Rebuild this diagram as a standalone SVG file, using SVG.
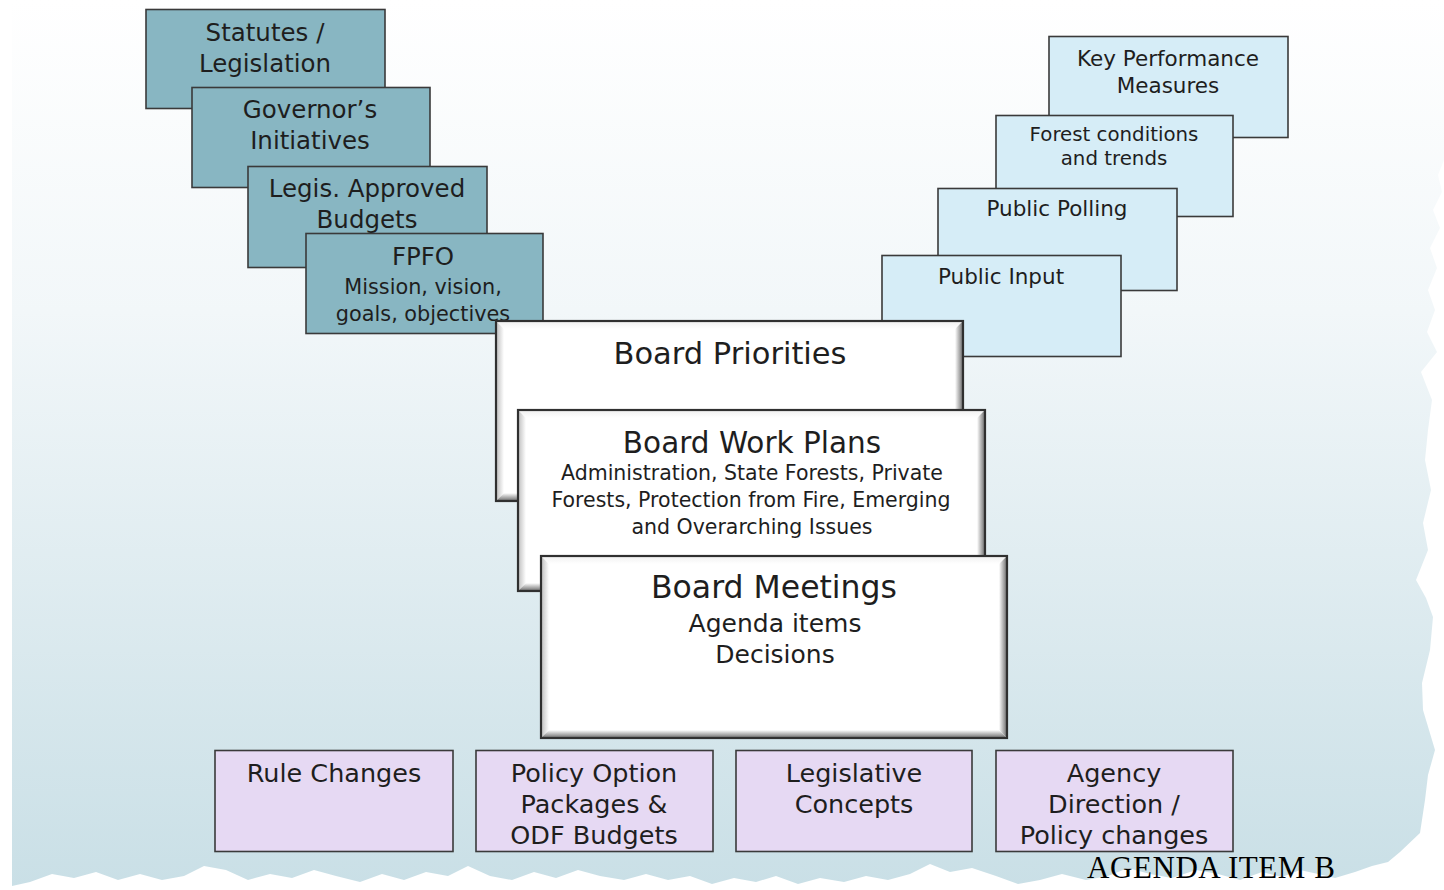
<svg xmlns="http://www.w3.org/2000/svg" width="1444" height="890" viewBox="0 0 1444 890">
<defs>
<linearGradient id="bg" gradientUnits="userSpaceOnUse" x1="0" y1="0" x2="0" y2="890">
<stop offset="0" stop-color="#ffffff"/>
<stop offset="0.35" stop-color="#f2f7f9"/>
<stop offset="1" stop-color="#c9dfe6"/>
</linearGradient>
<linearGradient id="bvR" x1="0" y1="0" x2="1" y2="0">
<stop offset="0" stop-color="#ffffff"/>
<stop offset="1" stop-color="#6a6a6a"/>
</linearGradient>
<linearGradient id="bvB" x1="0" y1="0" x2="0" y2="1">
<stop offset="0" stop-color="#ffffff"/>
<stop offset="1" stop-color="#6a6a6a"/>
</linearGradient>
<linearGradient id="bvL" x1="0" y1="0" x2="1" y2="0">
<stop offset="0" stop-color="#bdbdbd"/>
<stop offset="1" stop-color="#ffffff"/>
</linearGradient>
<linearGradient id="bvT" x1="0" y1="0" x2="0" y2="1">
<stop offset="0" stop-color="#f0f0f0"/>
<stop offset="1" stop-color="#ffffff"/>
</linearGradient>
</defs>
<style>
text{font-family:"DejaVu Sans","Liberation Sans",sans-serif;fill:#1e1e1e;text-anchor:middle}
.teal{fill:#88b6c2;stroke:#3a3a3a;stroke-width:1.6}
.sky{fill:#d6edf7;stroke:#3a3a3a;stroke-width:1.6}
.lav{fill:#e6d9f3;stroke:#3a3a3a;stroke-width:1.6}
.wht{fill:#ffffff}
.edge{fill:none;stroke:#303030;stroke-width:2.2}
.t24{font-size:24.5px}
.t21{font-size:20.8px}
.r21{font-size:21.5px}
.r20{font-size:19.8px}
.b25{font-size:25.5px}
.agenda{font-family:"Liberation Serif","Times New Roman",serif;font-size:31px;fill:#000;text-anchor:start}
</style>

<path id="background" fill="url(#bg)" d="M12,0 L1444,0 L1444,160 L1438,175 L1442,192 L1433,210 L1440,228 L1430,248 L1437,268 L1428,290 L1435,310 L1427,332 L1437,352 L1421,372 L1432,400 L1428,430 L1425,460 L1431,490 L1423,523 L1428,550 L1416,580 L1426,598 L1433,617 L1430,650 L1422,683 L1423,710 L1435,750 L1428,775 L1425,800 L1420,833 L1400,852 L1388,862 L1372,866 L1355,872 L1335,878 L1318,874 L1300,870 L1282,877 L1262,872 L1240,880 L1218,874 L1196,870 L1172,878 L1150,874 L1128,868 L1108,876 L1086,880 L1062,874 L1040,880 L1018,884 L996,876 L972,868 L950,872 L930,864 L910,874 L888,880 L866,876 L844,882 L820,878 L798,884 L776,876 L756,882 L734,878 L712,884 L690,876 L668,880 L646,874 L624,880 L600,876 L578,870 L556,878 L534,872 L512,880 L490,876 L468,866 L448,876 L426,872 L404,880 L382,874 L360,882 L336,876 L314,870 L292,878 L270,874 L248,880 L226,870 L204,866 L184,876 L162,880 L140,874 L118,880 L96,872 L74,878 L52,874 L30,882 L12,886 Z"/>

<g id="connectors"/>

<g id="statutes">
<rect class="teal" x="146" y="9.5" width="239" height="99"/>
<text class="t24" x="265" y="41">Statutes /</text>
<text class="t24" x="265" y="72">Legislation</text>
</g>
<g id="governor">
<rect class="teal" x="192" y="87.5" width="238" height="100"/>
<text class="t24" x="310" y="118">Governor’s</text>
<text class="t24" x="310" y="149">Initiatives</text>
</g>
<g id="legis-budgets">
<rect class="teal" x="248" y="166.5" width="239" height="101"/>
<text class="t24" x="367" y="197">Legis. Approved</text>
<text class="t24" x="367" y="228">Budgets</text>
</g>
<g id="fpfo">
<rect class="teal" x="306" y="233.5" width="237" height="100"/>
<text class="t24" x="423" y="265">FPFO</text>
<text class="t21" x="423" y="294">Mission, vision,</text>
<text class="t21" x="423" y="321">goals, objectives</text>
</g>

<g id="kpm">
<rect class="sky" x="1049" y="36.5" width="239" height="101"/>
<text class="r21" x="1168" y="66">Key Performance</text>
<text class="r21" x="1168" y="93">Measures</text>
</g>
<g id="forest-conditions">
<rect class="sky" x="996" y="115.5" width="237" height="101"/>
<text class="r20" x="1114" y="141">Forest conditions</text>
<text class="r20" x="1114" y="165">and trends</text>
</g>
<g id="public-polling">
<rect class="sky" x="938" y="188.5" width="239" height="102"/>
<text class="r21" x="1057" y="216">Public Polling</text>
</g>
<g id="public-input">
<rect class="sky" x="882" y="255.5" width="239" height="101"/>
<text class="r21" x="1001" y="284">Public Input</text>
</g>

<g id="board-priorities">
<rect class="wht" x="496" y="321" width="467" height="180"/>
<polygon fill="url(#bvT)" points="496,321 963,321 955,329 504,329"/>
<polygon fill="url(#bvL)" points="496,321 504,329 504,493 496,501"/>
<polygon fill="url(#bvR)" points="955,329 963,321 963,501 955,493"/>
<polygon fill="url(#bvB)" points="504,493 955,493 963,501 496,501"/>
<rect class="edge" x="496" y="321" width="467" height="180"/>
<text x="730" y="364" style="font-size:30.5px">Board Priorities</text>
</g>

<g id="board-work-plans">
<rect class="wht" x="518" y="410" width="467" height="181"/>
<polygon fill="url(#bvT)" points="518,410 985,410 977,418 526,418"/>
<polygon fill="url(#bvL)" points="518,410 526,418 526,583 518,591"/>
<polygon fill="url(#bvR)" points="977,418 985,410 985,591 977,583"/>
<polygon fill="url(#bvB)" points="526,583 977,583 985,591 518,591"/>
<rect class="edge" x="518" y="410" width="467" height="181"/>
<text x="752" y="453" style="font-size:29.5px">Board Work Plans</text>
<text x="752" y="480" style="font-size:20.5px">Administration, State Forests, Private</text>
<text x="751" y="507" style="font-size:20.5px">Forests, Protection from Fire, Emerging</text>
<text x="752" y="534" style="font-size:20.5px">and Overarching Issues</text>
</g>

<g id="board-meetings">
<rect class="wht" x="541" y="556" width="466" height="182"/>
<polygon fill="url(#bvT)" points="541,556 1007,556 999,564 549,564"/>
<polygon fill="url(#bvL)" points="541,556 549,564 549,730 541,738"/>
<polygon fill="url(#bvR)" points="999,564 1007,556 1007,738 999,730"/>
<polygon fill="url(#bvB)" points="549,730 999,730 1007,738 541,738"/>
<rect class="edge" x="541" y="556" width="466" height="182"/>
<text x="774" y="598" style="font-size:31.5px">Board Meetings</text>
<text x="775" y="632" style="font-size:25px">Agenda items</text>
<text x="775" y="663" style="font-size:25px">Decisions</text>
</g>

<g id="rule-changes">
<rect class="lav" x="215" y="750.5" width="238" height="101"/>
<text class="b25" x="334" y="782">Rule Changes</text>
</g>
<g id="policy-option">
<rect class="lav" x="476" y="750.5" width="237" height="101"/>
<text class="b25" x="594" y="782">Policy Option</text>
<text class="b25" x="594" y="813">Packages &amp;</text>
<text class="b25" x="594" y="844">ODF Budgets</text>
</g>
<g id="legislative-concepts">
<rect class="lav" x="736" y="750.5" width="236" height="101"/>
<text class="b25" x="854" y="782">Legislative</text>
<text class="b25" x="854" y="813">Concepts</text>
</g>
<g id="agency-direction">
<rect class="lav" x="996" y="750.5" width="237" height="101"/>
<text class="b25" x="1114" y="782">Agency</text>
<text class="b25" x="1114" y="813">Direction /</text>
<text class="b25" x="1114" y="844">Policy changes</text>
</g>

<text id="agenda-label" class="agenda" x="1087" y="878" textLength="248">AGENDA ITEM B</text>
</svg>
